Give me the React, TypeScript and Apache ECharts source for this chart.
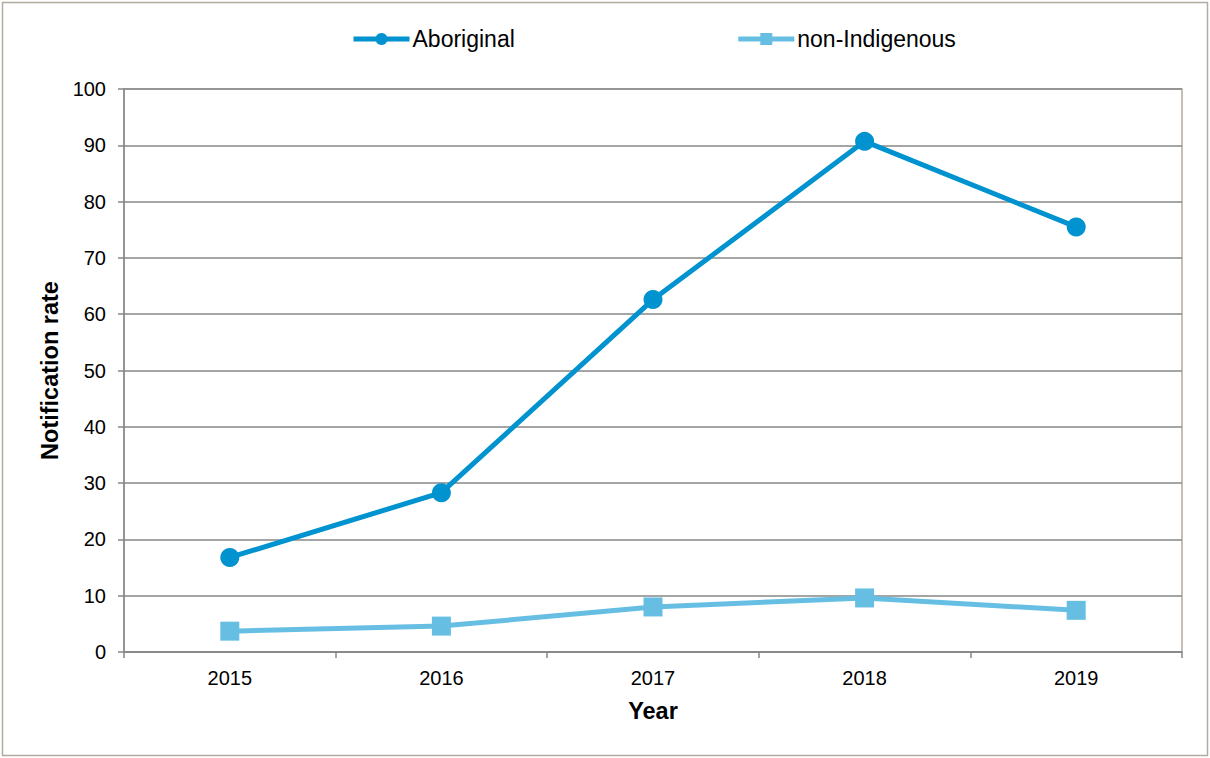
import React, { useEffect, useRef } from "react";
import * as echarts from "echarts";

const years = ["2015", "2016", "2017", "2018", "2019"];
const aboriginal = [16.8, 28.3, 62.6, 90.7, 75.5];
const nonIndigenous = [3.7, 4.6, 8.0, 9.6, 7.4];
const yTicks = [0, 10, 20, 30, 40, 50, 60, 70, 80, 90, 100];

const FONT = "'Liberation Sans', Arial, sans-serif";
const GRAY = "#878787";
const TAN = "#B3AAA0";
const C1 = "#0093D0";
const C2 = "#66BFE3";

export default function App() {
  const ref = useRef<HTMLDivElement>(null);
  useEffect(() => {
    if (!ref.current) return;
    const chart = echarts.init(ref.current, null, { renderer: "svg" });
    chart.setOption({
      animation: false,
      backgroundColor: "#ffffff",
      textStyle: { fontFamily: FONT },
      graphic: [
        {
          type: "rect",
          shape: { x: 2.5, y: 2.5, width: 1205, height: 753 },
          style: { fill: "none", stroke: TAN, lineWidth: 1.5 },
          silent: true,
        },
      ],
      legend: {
        left: 346,
        top: 22,
        itemWidth: 56,
        itemHeight: 15,
        itemGap: 221,
        lineStyle: { width: 5 },
        textStyle: { fontSize: 23, color: "#000", fontFamily: FONT, lineHeight: 24, padding: [0, 0, 0, -2] },
        data: ["Aboriginal", "non-Indigenous"],
      },
      grid: {
        left: 124,
        right: 28,
        top: 89,
        bottom: 106,
        show: true,
        borderColor: TAN,
        borderWidth: 1.5,
        backgroundColor: "transparent",
      },
      xAxis: {
        type: "category",
        data: years,
        boundaryGap: true,
        name: "Year",
        nameLocation: "middle",
        nameGap: 47,
        nameTextStyle: { fontSize: 23.5, fontWeight: "bold", color: "#000", fontFamily: FONT },
        axisLine: { show: true, lineStyle: { color: GRAY, width: 1.5 } },
        axisTick: { show: true, length: 6, lineStyle: { color: GRAY, width: 1.5 } },
        axisLabel: { fontSize: 20, color: "#000", margin: 16, fontFamily: FONT },
        splitLine: { show: false },
      },
      yAxis: {
        type: "value",
        min: yTicks[0],
        max: yTicks[yTicks.length - 1],
        interval: 10,
        name: "Notification rate",
        nameLocation: "middle",
        nameGap: 59,
        nameTextStyle: { fontSize: 23.5, fontWeight: "bold", color: "#000", fontFamily: FONT },
        axisLine: { show: true, lineStyle: { color: GRAY, width: 1.5 } },
        axisTick: { show: true, length: 6, lineStyle: { color: GRAY, width: 1.5 } },
        axisLabel: { fontSize: 20, color: "#000", margin: 18, fontFamily: FONT },
        splitLine: { show: true, lineStyle: { color: GRAY, width: 1.5 } },
      },
      series: [
        {
          name: "Aboriginal",
          type: "line",
          data: aboriginal,
          symbol: "circle",
          symbolSize: 19,
          lineStyle: { color: C1, width: 5 },
          itemStyle: { color: C1 },
        },
        {
          name: "non-Indigenous",
          type: "line",
          data: nonIndigenous,
          symbol: "rect",
          symbolSize: 19,
          lineStyle: { color: C2, width: 5 },
          itemStyle: { color: C2 },
        },
      ],
    });
    return () => chart.dispose();
  }, []);
  return (
    <div
      ref={ref}
      style={{ position: "fixed", left: 0, top: 0, width: 1210, height: 758, background: "#fff" }}
    />
  );
}
